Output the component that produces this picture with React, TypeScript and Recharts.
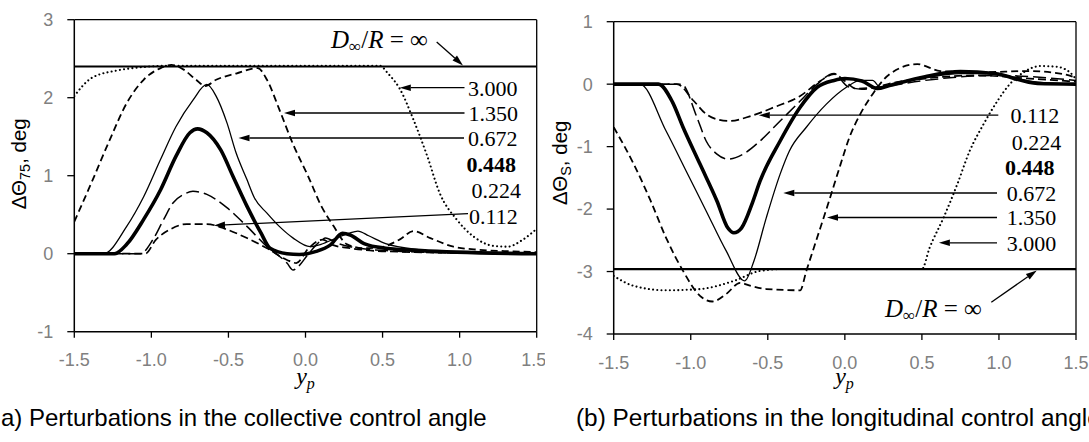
import React from 'react';
import { LineChart, Line, XAxis, YAxis, ReferenceLine } from 'recharts';

// ---------- shared ticks ----------
const xTicks = [-1.5, -1.0, -0.5, 0, 0.5, 1.0, 1.5];
const colTicks = [-1, 0, 1, 2, 3];
const lonTicks = [-4, -3, -2, -1, 0, 1];

// ---------- (a) collective control angle ----------
const colInfX = [-1.5, 1.5];
const colInfY = [2.4, 2.4];
const col3000X = [-1.5, -1.39, -1.22, -1.07, -0.89, -0.5, 0, 0.48, 0.54, 0.61, 0.7, 0.79, 0.87, 0.98, 1.09, 1.22, 1.31, 1.41, 1.5];
const col3000Y = [2.02, 2.25, 2.35, 2.39, 2.41, 2.41, 2.41, 2.41, 2.3, 2.12, 1.72, 1.25, 0.78, 0.44, 0.22, 0.1, 0.09, 0.18, 0.32];
const col1350X = [-1.5, -1.38, -1.27, -1.16, -1.05, -0.94, -0.87, -0.79, -0.71, -0.65, -0.58, -0.45, -0.31, -0.25, -0.17, -0.08, 0.02, 0.1, 0.18, 0.27, 0.38, 0.48, 0.61, 0.7, 0.81, 0.96, 1.13, 1.35, 1.5];
const col1350Y = [0.41, 0.95, 1.46, 1.93, 2.23, 2.38, 2.42, 2.36, 2.23, 2.15, 2.23, 2.31, 2.38, 2.23, 1.85, 1.4, 0.98, 0.62, 0.36, 0.12, 0.07, 0.08, 0.18, 0.29, 0.2, 0.09, 0.05, 0.03, 0.02];
const col0672X = [-1.5, -1.31, -1.16, -1.05, -0.94, -0.84, -0.73, -0.64, -0.58, -0.51, -0.45, -0.38, -0.33, -0.25, -0.17, -0.08, 0.03, 0.1, 0.2, 0.28, 0.34, 0.41, 0.52, 0.75, 0.98, 1.5];
const col0672Y = [0, 0, 0.35, 0.73, 1.21, 1.63, 1.97, 2.17, 2.02, 1.68, 1.29, 0.95, 0.71, 0.52, 0.35, 0.2, 0.09, 0.12, 0.2, 0.26, 0.29, 0.23, 0.13, 0.05, 0.02, 0];
const col0448X = [-1.5, -1.24, -1.16, -1.05, -0.94, -0.84, -0.75, -0.7, -0.64, -0.55, -0.47, -0.38, -0.29, -0.23, -0.12, -0.04, 0.07, 0.16, 0.24, 0.29, 0.38, 0.52, 0.75, 0.98, 1.5];
const col0448Y = [0, 0, 0.12, 0.44, 0.82, 1.25, 1.55, 1.6, 1.55, 1.33, 0.99, 0.61, 0.27, 0.07, 0, -0.01, 0.03, 0.11, 0.26, 0.24, 0.13, 0.07, 0.04, 0.02, 0];
const col0224X = [-1.5, -1.07, -0.99, -0.92, -0.86, -0.79, -0.73, -0.64, -0.51, -0.38, -0.25, -0.12, -0.08, -0.05, 0.02, 0.09, 0.13, 0.2, 0.29, 0.52, 0.98, 1.5];
const col0224Y = [0, 0, 0.18, 0.44, 0.65, 0.76, 0.8, 0.76, 0.59, 0.35, 0.09, -0.12, -0.21, -0.17, 0, 0.15, 0.2, 0.14, 0.09, 0.04, 0.01, 0];
const col0112X = [-1.5, -1.04, -0.97, -0.88, -0.77, -0.64, -0.51, -0.38, -0.25, -0.12, -0.06, 0.02, 0.11, 0.18, 0.29, 0.52, 1.5];
const col0112Y = [0, 0, 0.18, 0.31, 0.38, 0.38, 0.31, 0.2, 0.07, -0.08, -0.12, 0.07, 0.18, 0.11, 0.07, 0.03, 0];

// ---------- (b) longitudinal control angle ----------
const lonInfX = [-1.5, 1.5];
const lonInfY = [-2.96, -2.96];
const lon3000X = [-1.5, -1.37, -1.16, -0.94, -0.72, -0.55, -0.4, 0, 0.5, 0.55, 0.64, 0.73, 0.81, 0.9, 0.99, 1.07, 1.16, 1.27, 1.37, 1.46, 1.5];
const lon3000Y = [-3.07, -3.23, -3.3, -3.28, -3.15, -2.99, -2.96, -2.96, -2.96, -2.62, -2.14, -1.6, -1.07, -0.64, -0.27, 0, 0.19, 0.29, 0.28, 0.19, 0.08];
const lon1350X = [-1.5, -1.37, -1.26, -1.16, -1.05, -0.94, -0.86, -0.77, -0.68, -0.61, -0.51, -0.29, -0.25, -0.18, -0.1, -0.03, 0.03, 0.1, 0.18, 0.29, 0.47, 0.62, 0.88, 1.2, 1.42, 1.5];
const lon1350Y = [-0.69, -1.28, -1.87, -2.46, -2.99, -3.39, -3.48, -3.36, -3.18, -3.23, -3.28, -3.3, -2.99, -2.46, -1.85, -1.3, -0.85, -0.48, -0.16, 0.16, 0.32, 0.21, 0.19, 0.21, 0.16, 0.1];
const lon0672X = [-1.5, -1.33, -1.16, -1.03, -0.9, -0.77, -0.65, -0.59, -0.51, -0.42, -0.36, -0.25, -0.12, 0.01, 0.1, 0.18, 0.23, 0.35, 0.52, 0.75, 0.97, 1.2, 1.5];
const lon0672Y = [0, 0, -0.75, -1.39, -2.03, -2.67, -3.15, -2.83, -2.14, -1.44, -1.07, -0.69, -0.32, -0.05, 0.06, 0.06, -0.05, 0.02, 0.1, 0.17, 0.17, 0.05, 0];
const lon0448X = [-1.5, -1.21, -1.12, -1.05, -0.94, -0.83, -0.76, -0.72, -0.67, -0.6, -0.55, -0.42, -0.29, -0.18, -0.07, 0, 0.11, 0.21, 0.29, 0.52, 0.75, 0.97, 1.25, 1.5];
const lon0448Y = [0, 0, -0.28, -0.69, -1.28, -1.87, -2.3, -2.38, -2.3, -1.9, -1.55, -0.91, -0.37, -0.05, 0.06, 0.09, 0.05, -0.07, -0.02, 0.12, 0.2, 0.17, 0.01, 0];
const lon0224X = [-1.5, -1.06, -0.96, -0.9, -0.83, -0.76, -0.66, -0.55, -0.42, -0.29, -0.18, -0.07, 0.02, 0.11, 0.25, 0.52, 0.97, 1.5];
const lon0224Y = [0, 0, -0.53, -0.91, -1.12, -1.2, -1.12, -0.91, -0.59, -0.27, 0, 0.17, -0.04, -0.08, -0.04, 0.06, 0.14, 0.06];
const lon0112X = [-1.5, -1.09, -0.98, -0.9, -0.82, -0.75, -0.61, -0.46, -0.29, -0.16, -0.07, 0, 0.07, 0.2, 0.29, 0.52, 0.86, 1.2, 1.5];
const lon0112Y = [0, 0, -0.27, -0.48, -0.57, -0.59, -0.51, -0.37, -0.19, 0.05, 0.16, 0.05, -0.07, -0.05, 0.01, 0.09, 0.14, 0.09, 0.04];

const pts = (xs: number[], ys: number[]) => xs.map((x, i) => ({ x, y: ys[i] }));

const SANS = "'Liberation Sans', Arial, sans-serif";
const SERIF = "'Liberation Serif', 'Times New Roman', serif";

type Style = { w: number; dash?: string; cap?: 'round' | 'butt' };
const sInf: Style = { w: 2.2 };
const s3000: Style = { w: 2.1, dash: '0.01 4.2', cap: 'round' };
const s1350: Style = { w: 1.8, dash: '7 4' };
const s0672: Style = { w: 1.3 };
const s0448: Style = { w: 3.6 };
const s0224: Style = { w: 1.5, dash: '13 5' };
const s0112: Style = { w: 1.7, dash: '8 4' };

const series = (id: string, d: { x: number; y: number }[], s: Style) => (
  <Line
    key={id}
    data={d}
    dataKey="y"
    type="monotone"
    stroke="#000"
    strokeWidth={s.w}
    strokeDasharray={s.dash}
    strokeLinecap={s.cap || 'butt'}
    dot={false}
    activeDot={false}
    isAnimationActive={false}
    legendType="none"
  />
);

function Arrow({ x1, y1, x2, y2 }: { x1: number; y1: number; x2: number; y2: number }) {
  const a = Math.atan2(y2 - y1, x2 - x1);
  const L = 11;
  const Wd = 3.3;
  const bx = x2 - L * Math.cos(a);
  const by = y2 - L * Math.sin(a);
  const p1 = `${x2},${y2}`;
  const p2 = `${bx + Wd * Math.sin(a)},${by - Wd * Math.cos(a)}`;
  const p3 = `${bx - Wd * Math.sin(a)},${by + Wd * Math.cos(a)}`;
  return (
    <g>
      <line x1={x1} y1={y1} x2={bx} y2={by} stroke="#000" strokeWidth={1.3} />
      <polygon points={`${p1} ${p2} ${p3}`} fill="#000" />
    </g>
  );
}

function Num({ x, y, t, bold }: { x: number; y: number; t: string; bold?: boolean }) {
  return (
    <text x={x} y={y} fontFamily={SERIF} fontSize={22} fontWeight={bold ? 700 : 400} fill="#000">
      {t}
    </text>
  );
}

function DInf({ x, y }: { x: number; y: number }) {
  return (
    <text x={x} y={y} fontFamily={SERIF} fontSize={25} fill="#000">
      <tspan fontStyle="italic">D</tspan>
      <tspan fontSize={17} dy={4}>∞</tspan>
      <tspan dy={-4}>/</tspan>
      <tspan fontStyle="italic">R</tspan>
      <tspan>{' = ∞'}</tspan>
    </text>
  );
}

function YTitle({ x, y, sub }: { x: number; y: number; sub: string }) {
  return (
    <text transform={`translate(${x},${y}) rotate(-90)`} textAnchor="middle" fontFamily={SANS} fontSize={20.5} fill="#000">
      ΔΘ
      <tspan fontSize={14.5} dy={4}>{sub}</tspan>
      <tspan dy={-4}>, deg</tspan>
    </text>
  );
}

function XTitle({ x, y }: { x: number; y: number }) {
  return (
    <text x={x} y={y} textAnchor="middle" fontFamily={SERIF} fontStyle="italic" fontSize={24} fill="#000">
      y<tspan fontSize={16} dy={5}>p</tspan>
    </text>
  );
}

const tickStyle = { fill: '#808080', fontSize: 18, fontFamily: SANS };
const fmtX = (v: number) => v.toFixed(1);

export default function App() {
  const R = 545; // left offset of right panel
  return (
    <div style={{ position: 'absolute', left: 0, top: 0, width: 1089, height: 442, overflow: 'hidden', background: '#fff' }}>
      {/* (a) collective */}
      <div style={{ position: 'absolute', left: 0, top: 0 }}>
        <LineChart width={545} height={442} margin={{ top: 19.7, right: 8.3, bottom: 0, left: 0 }}>
          <XAxis
            type="number"
            dataKey="x"
            domain={[-1.5, 1.5]}
            ticks={xTicks}
            tickFormatter={fmtX}
            height={110.3}
            tick={tickStyle}
            tickSize={6}
            tickMargin={16}
            axisLine={{ stroke: '#000', strokeWidth: 1.5 }}
            tickLine={{ stroke: '#000', strokeWidth: 1.3 }}
            allowDataOverflow
          />
          <YAxis
            type="number"
            domain={[-1, 3]}
            ticks={colTicks}
            width={74.3}
            tick={tickStyle}
            tickSize={7}
            tickMargin={14}
            axisLine={{ stroke: '#000', strokeWidth: 1.5 }}
            tickLine={{ stroke: '#000', strokeWidth: 1.3 }}
            allowDataOverflow
          />
          <ReferenceLine y={3} stroke="#000" strokeWidth={1.3} />
          <ReferenceLine x={1.5} stroke="#000" strokeWidth={1.3} />
          {series('cinf', pts(colInfX, colInfY), sInf)}
          {series('c3000', pts(col3000X, col3000Y), s3000)}
          {series('c1350', pts(col1350X, col1350Y), s1350)}
          {series('c0224', pts(col0224X, col0224Y), s0224)}
          {series('c0112', pts(col0112X, col0112Y), s0112)}
          {series('c0672', pts(col0672X, col0672Y), s0672)}
          {series('c0448', pts(col0448X, col0448Y), s0448)}
          <g>
            <DInf x={331} y={48} />
            <Arrow x1={436.7} y1={42} x2={463} y2={65.4} />
            <Num x={468} y={95.5} t="3.000" />
            <Arrow x1={464.5} y1={87.7} x2={399.8} y2={87.7} />
            <Num x={468.5} y={121} t="1.350" />
            <Arrow x1={464.5} y1={113} x2={284} y2={113} />
            <Num x={468} y={146} t="0.672" />
            <Arrow x1={464} y1={138} x2={238.5} y2={138} />
            <Num x={466.5} y={171.5} t="0.448" bold />
            <Num x={471.5} y={197.5} t="0.224" />
            <Num x={469} y={223.5} t="0.112" />
            <Arrow x1={468} y1={213.7} x2={214} y2={225.4} />
            <YTitle x={26} y={163.7} sub="75" />
            <XTitle x={305.5} y={384} />
            <text x={1} y={426} fontFamily={SANS} fontSize={24} fill="#000">
              a) Perturbations in the collective control angle
            </text>
          </g>
        </LineChart>
      </div>

      {/* (b) longitudinal */}
      <div style={{ position: 'absolute', left: R, top: 0 }}>
        <LineChart width={544} height={442} margin={{ top: 21.7, right: 13, bottom: 0, left: 0 }}>
          <XAxis
            type="number"
            dataKey="x"
            domain={[-1.5, 1.5]}
            ticks={xTicks}
            tickFormatter={fmtX}
            height={108}
            tick={tickStyle}
            tickSize={6}
            tickMargin={16}
            axisLine={{ stroke: '#000', strokeWidth: 1.5 }}
            tickLine={{ stroke: '#000', strokeWidth: 1.3 }}
            allowDataOverflow
          />
          <YAxis
            type="number"
            domain={[-4, 1]}
            ticks={lonTicks}
            width={68.7}
            tick={tickStyle}
            tickSize={7}
            tickMargin={14}
            axisLine={{ stroke: '#000', strokeWidth: 1.5 }}
            tickLine={{ stroke: '#000', strokeWidth: 1.3 }}
            allowDataOverflow
          />
          <ReferenceLine y={1} stroke="#000" strokeWidth={1.3} />
          <ReferenceLine x={1.5} stroke="#000" strokeWidth={1.3} />
          {series('linf', pts(lonInfX, lonInfY), sInf)}
          {series('l3000', pts(lon3000X, lon3000Y), s3000)}
          {series('l1350', pts(lon1350X, lon1350Y), s1350)}
          {series('l0224', pts(lon0224X, lon0224Y), s0224)}
          {series('l0112', pts(lon0112X, lon0112Y), s0112)}
          {series('l0672', pts(lon0672X, lon0672Y), s0672)}
          {series('l0448', pts(lon0448X, lon0448Y), s0448)}
          <g>
            <Num x={1010.6 - R} y={123} t="0.112" />
            <Arrow x1={998.3 - R} y1={115.2} x2={758.8 - R} y2={115.2} />
            <Num x={1011.7 - R} y={149.5} t="0.224" />
            <Num x={1005 - R} y={174.5} t="0.448" bold />
            <Num x={1006.7 - R} y={200.5} t="0.672" />
            <Arrow x1={997 - R} y1={193} x2={783.3 - R} y2={193} />
            <Num x={1006.7 - R} y={225} t="1.350" />
            <Arrow x1={997 - R} y1={217.5} x2={827 - R} y2={217.5} />
            <Num x={1006.7 - R} y={250.5} t="3.000" />
            <Arrow x1={997 - R} y1={242.8} x2={938.9 - R} y2={242.8} />
            <DInf x={885 - R} y={317} />
            <Arrow x1={991.3 - R} y1={302.3} x2={1036.8 - R} y2={270.5} />
            <YTitle x={566.5 - R} y={162.8} sub="S" />
            <XTitle x={844.5 - R} y={384} />
            <text x={576 - R} y={426} fontFamily={SANS} fontSize={24.4} fill="#000">
              (b) Perturbations in the longitudinal control angle
            </text>
          </g>
        </LineChart>
      </div>
    </div>
  );
}
